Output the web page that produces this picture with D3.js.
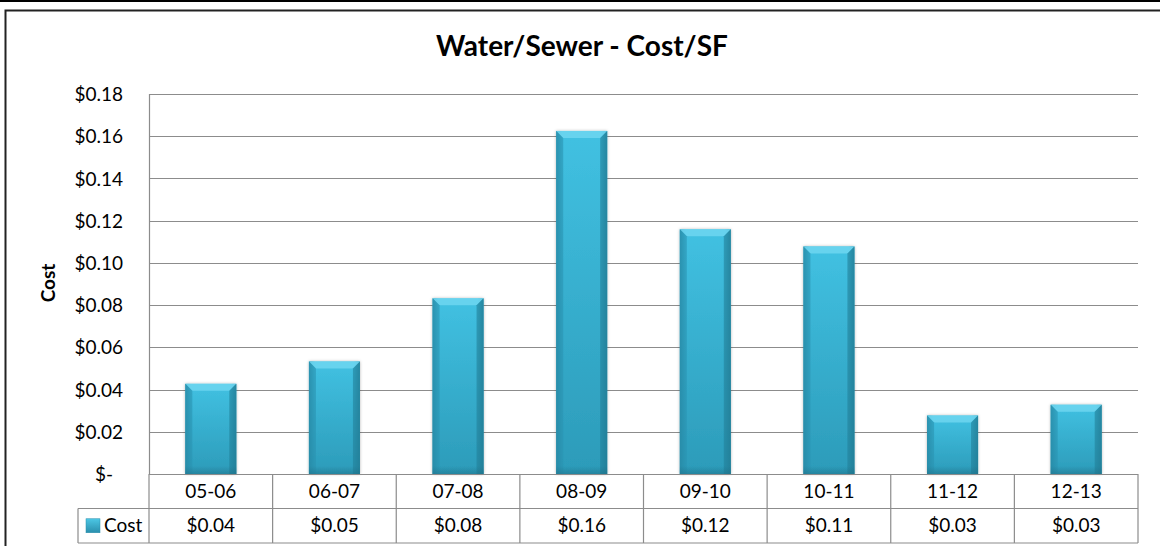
<!DOCTYPE html>
<html><head><meta charset="utf-8">
<script src="https://cdn.jsdelivr.net/npm/d3@7"></script>
<style>
html,body{margin:0;padding:0;background:#fff;}
svg{display:block;font-family:Lato,"Open Sans","Liberation Sans",sans-serif;}
</style></head>
<body><svg id="c" width="1160" height="546"></svg>
<script>
const categories = ["05-06","06-07","07-08","08-09","09-10","10-11","11-12","12-13"];
const costValues = [0.0427,0.0533,0.0832,0.1625,0.1159,0.1078,0.0277,0.0328];
const tableLabels = ["$0.04","$0.05","$0.08","$0.16","$0.12","$0.11","$0.03","$0.03"];
const yTicks = [0,0.02,0.04,0.06,0.08,0.10,0.12,0.14,0.16,0.18];
const seriesName = "Cost";
const chartTitle = "Water/Sewer - Cost/SF";
const yTitle = "Cost";

const svg = d3.select("#c");
const L = 149, R = 1138, T = 94, B = 474;
const rowH = 34.5;
const legendLeft = 78;
const fs = 19;

// outer frame
svg.append("line").attr("x1",0).attr("x2",1160).attr("y1",1).attr("y2",1).attr("stroke","#000").attr("stroke-width",2);
svg.append("path").attr("d",`M5.5,546 V10.5 H1160`).attr("fill","none").attr("stroke","#222").attr("stroke-width",2);

const defs = svg.append("defs");
const gv = defs.append("linearGradient").attr("id","gv").attr("x1",0).attr("x2",0).attr("y1",0).attr("y2",1);
gv.append("stop").attr("offset","0%").attr("stop-color","#41C1E2");
gv.append("stop").attr("offset","100%").attr("stop-color","#2C9BB9");
const gh = defs.append("linearGradient").attr("id","gh").attr("x1",0).attr("x2",1).attr("y1",0).attr("y2",0);
gh.append("stop").attr("offset","0%").attr("stop-color","#1F6F86").attr("stop-opacity",0.55);
gh.append("stop").attr("offset","12%").attr("stop-color","#1F6F86").attr("stop-opacity",0);
gh.append("stop").attr("offset","88%").attr("stop-color","#1F6F86").attr("stop-opacity",0);
gh.append("stop").attr("offset","100%").attr("stop-color","#1F6F86").attr("stop-opacity",0.55);
const gb = defs.append("linearGradient").attr("id","gb").attr("x1",0).attr("x2",0).attr("y1",0).attr("y2",1);
gb.append("stop").attr("offset","0%").attr("stop-color","#1F6F86").attr("stop-opacity",0);
gb.append("stop").attr("offset","100%").attr("stop-color","#1F6F86").attr("stop-opacity",0.5);
const sh = defs.append("filter").attr("id","sh").attr("x","-20%").attr("y","-20%").attr("width","140%").attr("height","140%");
sh.append("feDropShadow").attr("dx",0).attr("dy",0).attr("stdDeviation",1.5).attr("flood-color","#000").attr("flood-opacity",0.3);

const x = d3.scaleBand().domain(categories).range([L,R]).paddingInner(0).paddingOuter(0);
const y = d3.scaleLinear().domain([0,0.18]).range([B,T]);

// gridlines
svg.append("g").selectAll("line").data(yTicks).join("line")
  .attr("x1",L).attr("x2",R).attr("y1",d=>Math.round(y(d))+0.5).attr("y2",d=>Math.round(y(d))+0.5)
  .attr("stroke","#8c8c8c").attr("stroke-width",1.2);
svg.append("line").attr("x1",L+0.5).attr("x2",L+0.5).attr("y1",T).attr("y2",B).attr("stroke","#8c8c8c").attr("stroke-width",1.2);

// y axis labels
const yAxis = d3.axisLeft(y).tickValues(yTicks).tickSize(0).tickPadding(0)
  .tickFormat(d=> d===0 ? "$-" : "$" + d3.format(".2f")(d));
const ya = svg.append("g").attr("transform",`translate(123,0)`).call(yAxis);
ya.select(".domain").remove();
ya.selectAll("text").attr("font-size",fs).attr("fill","#000").attr("font-family","Lato,'Open Sans',sans-serif").attr("dy","0.35em");
ya.selectAll(".tick").filter(d=>d===0).select("text").attr("text-anchor","middle").attr("x",-19);

// bars
const bw = 51;
const bars = svg.append("g").selectAll("g").data(categories).join("g")
  .attr("transform",d=>`translate(${x(d)+x.bandwidth()/2-bw/2},0)`);
bars.each(function(d,i){
  const g = d3.select(this);
  const top = y(costValues[i]), h = B - top;
  g.append("rect").attr("x",0).attr("y",top).attr("width",bw).attr("height",h).attr("fill","url(#gv)").attr("filter","url(#sh)");
  g.append("rect").attr("x",0).attr("y",top).attr("width",bw).attr("height",h).attr("fill","url(#gh)");
  const bev = Math.min(7, h/2);
  g.append("path").attr("d",`M0,${top} H${bw} L${bw-bev},${top+bev} H${bev} Z`).attr("fill","#6ED6F0").attr("opacity",0.85);
  g.append("path").attr("d",`M0,${top} L${bev},${top+bev} V${B} H0 Z`).attr("fill","#2A93B0").attr("opacity",0.6);
  g.append("path").attr("d",`M${bw},${top} L${bw-bev},${top+bev} V${B} H${bw} Z`).attr("fill","#227E97").attr("opacity",0.6);
  g.append("rect").attr("x",0).attr("y",B-8).attr("width",bw).attr("height",8).attr("fill","url(#gb)");
});

// data table
const tg = svg.append("g");
const gridC = "#8c8c8c";
tg.append("line").attr("x1",L).attr("x2",R).attr("y1",B+0.5).attr("y2",B+0.5).attr("stroke",gridC).attr("stroke-width",1.2);
tg.append("line").attr("x1",legendLeft).attr("x2",R).attr("y1",B+rowH).attr("y2",B+rowH).attr("stroke",gridC).attr("stroke-width",1.2);
tg.append("line").attr("x1",legendLeft).attr("x2",R).attr("y1",B+2*rowH).attr("y2",B+2*rowH).attr("stroke",gridC).attr("stroke-width",1.2);
tg.append("line").attr("x1",legendLeft).attr("x2",legendLeft).attr("y1",B+rowH).attr("y2",B+2*rowH).attr("stroke",gridC).attr("stroke-width",1.2);
const bounds = categories.map(c=>x(c)).concat([R]);
tg.selectAll("line.v").data(bounds).join("line").attr("class","v")
  .attr("x1",d=>d).attr("x2",d=>d).attr("y1",B).attr("y2",B+2*rowH).attr("stroke",gridC).attr("stroke-width",1.2);
tg.selectAll("text.cat").data(categories).join("text").attr("class","cat")
  .attr("x",d=>x(d)+x.bandwidth()/2).attr("y",B+rowH/2).attr("dy","0.35em").attr("text-anchor","middle")
  .attr("font-size",fs).text(d=>d);
tg.selectAll("text.val").data(categories).join("text").attr("class","val")
  .attr("x",d=>x(d)+x.bandwidth()/2).attr("y",B+rowH*1.5).attr("dy","0.35em").attr("text-anchor","middle")
  .attr("font-size",fs).text((d,i)=>tableLabels[i]);
// legend key
const lk = defs.append("linearGradient").attr("id","lk").attr("x1",0).attr("x2",0).attr("y1",0).attr("y2",1);
lk.append("stop").attr("offset","0%").attr("stop-color","#4CC6E4");
lk.append("stop").attr("offset","100%").attr("stop-color","#2A8FAD");
tg.append("rect").attr("x",86).attr("y",B+rowH*1.5-7).attr("width",14).attr("height",14).attr("fill","url(#lk)").attr("stroke","#2A8FAD").attr("stroke-width",0.5);
tg.append("text").attr("x",104).attr("y",B+rowH*1.5).attr("dy","0.35em").attr("font-size",fs).text(seriesName);

// titles
svg.append("text").attr("x",582).attr("y",56).attr("text-anchor","middle").attr("font-size",28).attr("font-weight","bold").text(chartTitle);
svg.append("text").attr("transform","translate(55,283) rotate(-90)").attr("text-anchor","middle").attr("font-size",19).attr("font-weight","bold").text(yTitle);
</script></body></html>
